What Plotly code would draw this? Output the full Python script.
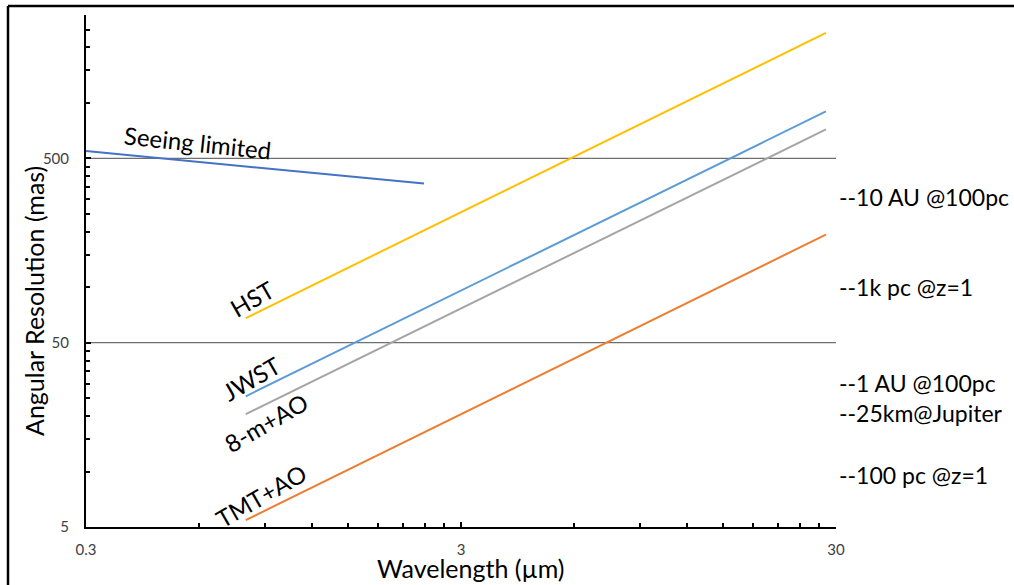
import plotly.graph_objects as go

# ---- data ----
seeing_wl = [0.3, 2.39]
seeing_res = [548, 365]

hst_wl = [0.8, 28.2]
hst_res = [68, 2400]

jwst_wl = [0.8, 28.2]
jwst_res = [25.6, 900]

m8_wl = [0.8, 28.2]
m8_res = [20.5, 718]

tmt_wl = [0.8, 28.2]
tmt_res = [5.45, 193]

ref_wl = [0.3, 30]
ref_500 = [500, 500]
ref_50 = [50, 50]

x_tickvals = [0.3, 3, 30]
x_ticktext = ["0.3", "3", "30"]
y_tickvals = [5, 50, 500]
y_ticktext = ["5", "50", "500"]

x_minor = [0.3 * k for k in range(2, 10)] + [3 * k for k in range(2, 10)]
y_minor = [5 * k for k in range(2, 10)] + [50 * k for k in range(2, 10)] + [500 * k for k in range(2, 7)]

right_notes = ["--10 AU @100pc", "--1k pc @z=1", "--1 AU @100pc<br>--25km@Jupiter", "--100 pc @z=1"]
right_note_px = [197, 287, 398, 475]

FONT = "Lato"

fig = go.Figure()
line_specs = [
    (ref_wl, ref_500, "#6f6f6f", 1.3),
    (ref_wl, ref_50, "#6f6f6f", 1.3),
    (seeing_wl, seeing_res, "#4472C4", 2),
    (hst_wl, hst_res, "#FFC000", 2),
    (jwst_wl, jwst_res, "#5B9BD5", 2),
    (m8_wl, m8_res, "#A5A5A5", 2),
    (tmt_wl, tmt_res, "#ED7D31", 2),
]
for xs, ys, col, w in line_specs:
    fig.add_trace(go.Scatter(x=xs, y=ys, mode="lines", line=dict(color=col, width=w),
                             showlegend=False, hoverinfo="skip"))

W, H = 1014, 585
L, R, T, B = 86, 836, 15, 527
pw, ph = R - L, B - T

def px(x):
    return (x - L) / pw

def py(y):
    return (B - y) / ph

annotations = []
labels = [
    ("Seeing limited", 198, 142, 6),
    ("HST", 252, 298, -30),
    ("JWST", 251, 378, -30),
    ("8-m+AO", 266, 422, -30),
    ("TMT+AO", 261, 495, -30),
]
for txt, cx, cy, ang in labels:
    annotations.append(dict(text=txt, x=px(cx), y=py(cy), xref="paper", yref="paper",
                            showarrow=False, textangle=ang, xanchor="center", yanchor="middle",
                            font=dict(family=FONT, size=24, color="#000000")))
for txt, cy in zip(right_notes, right_note_px):
    annotations.append(dict(text=txt, x=px(837), y=py(cy), xref="paper", yref="paper",
                            showarrow=False, xanchor="left", yanchor="middle", align="left",
                            font=dict(family=FONT, size=23, color="#000000")))
annotations.append(dict(text="Wavelength (µm)", x=px(470), y=py(568), xref="paper", yref="paper",
                        showarrow=False, xanchor="center", yanchor="middle",
                        font=dict(family=FONT, size=25, color="#000000")))
annotations.append(dict(text="Angular Resolution (mas)", x=px(34), y=py(301), xref="paper", yref="paper",
                        showarrow=False, xanchor="center", yanchor="middle", textangle=-90,
                        font=dict(family=FONT, size=25, color="#000000")))

shapes = [
    dict(type="line", xref="paper", yref="paper", x0=px(8), x1=px(1020), y0=py(6), y1=py(6),
         line=dict(color="#000000", width=2.5)),
    dict(type="line", xref="paper", yref="paper", x0=px(8), x1=px(8), y0=py(6), y1=py(600),
         line=dict(color="#000000", width=2.5)),
]

fig.update_layout(
    width=W, height=H,
    margin=dict(l=L, r=W - R, t=T, b=H - B),
    paper_bgcolor="white", plot_bgcolor="white",
    annotations=annotations, shapes=shapes,
    xaxis=dict(type="log", range=[-0.52287874528, 1.47712125472],
               tickmode="array", tickvals=x_tickvals, ticktext=x_ticktext,
               ticks="inside", ticklen=5, tickwidth=1.5, tickcolor="#000",
               showline=True, linecolor="#000", linewidth=2, mirror=False,
               showgrid=False, zeroline=False, ticklabelstandoff=8,
               tickfont=dict(family=FONT, size=15, color="#404040"),
               minor=dict(tickmode="array", tickvals=x_minor, ticks="inside", ticklen=4,
                          tickwidth=1.5, tickcolor="#000", showgrid=False)),
    yaxis=dict(type="log", range=[0.69897000434, 3.47712125472],
               tickmode="array", tickvals=y_tickvals, ticktext=y_ticktext,
               ticks="inside", ticklen=5, tickwidth=1.5, tickcolor="#000",
               showline=True, linecolor="#000", linewidth=2, mirror=False,
               showgrid=False, zeroline=False, ticklabelstandoff=12,
               tickfont=dict(family=FONT, size=15, color="#404040"),
               minor=dict(tickmode="array", tickvals=y_minor, ticks="inside", ticklen=4,
                          tickwidth=1.5, tickcolor="#000", showgrid=False)),
)

fig.write_html("out.html")
